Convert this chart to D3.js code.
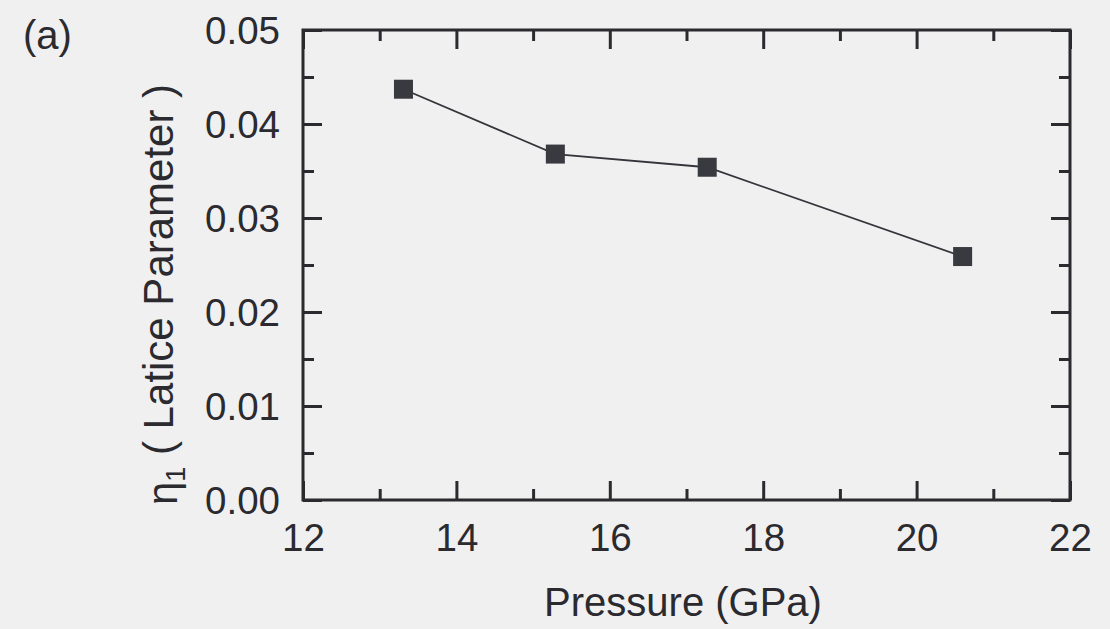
<!DOCTYPE html>
<html>
<head>
<meta charset="utf-8">
<script src="https://cdn.jsdelivr.net/npm/d3@7/dist/d3.min.js"></script>
<style>
  html, body { margin: 0; padding: 0; background: #f0f0f1; }
  svg { display: block; }
  text { font-family: "Liberation Sans", Arial, sans-serif; fill: #2a2a2f; }
</style>
</head>
<body>
<svg id="chart" width="1110" height="629"></svg>
<script>
// Order parameter eta_1 (lattice parameter) versus pressure
const pressure = [13.31, 15.29, 17.27, 20.60];
const eta1     = [0.0437, 0.0368, 0.0354, 0.0259];

const xMajorTicks = [12, 14, 16, 18, 20, 22];
const xMinorTicks = [13, 15, 17, 19, 21];
const yMajorTicks = [0.00, 0.01, 0.02, 0.03, 0.04, 0.05];
const yMinorTicks = [0.005, 0.015, 0.025, 0.035, 0.045];

const svg = d3.select("#chart");
const ink = "#2a2a2f";

const plotLeft = 303, plotRight = 1070, plotTop = 30, plotBottom = 500;
const x = d3.scaleLinear().domain([12, 22]).range([plotLeft, plotRight]);
const y = d3.scaleLinear().domain([0, 0.05]).range([plotBottom, plotTop]);

const majorLen = 19, minorLen = 11;
const tickFontSize = 38.5;

function styleAxis(g) {
  g.select(".domain").remove();
  g.selectAll(".tick line").attr("stroke", ink).attr("stroke-width", 3);
}
function styleLabels(g) {
  g.selectAll("text")
    .attr("font-size", tickFontSize)
    .style("font-family", "Liberation Sans, Arial, sans-serif")
    .attr("fill", ink);
}

// bottom axis: labelled major ticks + minor ticks, pointing inward
svg.append("g")
  .attr("transform", `translate(0,${plotBottom})`)
  .call(d3.axisBottom(x).tickValues(xMajorTicks).tickSize(-majorLen).tickPadding(24).tickFormat(d3.format("d")))
  .call(styleAxis)
  .call(styleLabels);
svg.append("g")
  .attr("transform", `translate(0,${plotBottom})`)
  .call(d3.axisBottom(x).tickValues(xMinorTicks).tickSize(-minorLen).tickFormat(""))
  .call(styleAxis);

// top axis (ticks only)
svg.append("g")
  .attr("transform", `translate(0,${plotTop})`)
  .call(d3.axisTop(x).tickValues(xMajorTicks).tickSize(-majorLen).tickFormat(""))
  .call(styleAxis);
svg.append("g")
  .attr("transform", `translate(0,${plotTop})`)
  .call(d3.axisTop(x).tickValues(xMinorTicks).tickSize(-minorLen).tickFormat(""))
  .call(styleAxis);

// left axis with labels
svg.append("g")
  .attr("transform", `translate(${plotLeft},0)`)
  .call(d3.axisLeft(y).tickValues(yMajorTicks).tickSize(-majorLen).tickPadding(23).tickFormat(d3.format(".2f")))
  .call(styleAxis)
  .call(styleLabels)
  .call(g => g.selectAll("text").attr("dy", "0.36em"));
svg.append("g")
  .attr("transform", `translate(${plotLeft},0)`)
  .call(d3.axisLeft(y).tickValues(yMinorTicks).tickSize(-minorLen).tickFormat(""))
  .call(styleAxis);

// right axis (ticks only)
svg.append("g")
  .attr("transform", `translate(${plotRight},0)`)
  .call(d3.axisRight(y).tickValues(yMajorTicks).tickSize(-majorLen).tickFormat(""))
  .call(styleAxis);
svg.append("g")
  .attr("transform", `translate(${plotRight},0)`)
  .call(d3.axisRight(y).tickValues(yMinorTicks).tickSize(-minorLen).tickFormat(""))
  .call(styleAxis);

// frame
svg.append("rect")
  .attr("x", plotLeft).attr("y", plotTop)
  .attr("width", plotRight - plotLeft).attr("height", plotBottom - plotTop)
  .attr("fill", "none").attr("stroke", ink).attr("stroke-width", 3);

// connecting line
const pts = pressure.map((p, i) => [p, eta1[i]]);
svg.append("path")
  .datum(pts)
  .attr("fill", "none")
  .attr("stroke", "#34343a")
  .attr("stroke-width", 1.8)
  .attr("d", d3.line().x(d => x(d[0])).y(d => y(d[1])));

// square markers
const ms = 19;
svg.selectAll("rect.marker")
  .data(pts)
  .join("rect")
  .attr("class", "marker")
  .attr("x", d => x(d[0]) - ms / 2)
  .attr("y", d => y(d[1]) - ms / 2)
  .attr("width", ms).attr("height", ms)
  .attr("fill", "#393940");

// axis titles
svg.append("text")
  .attr("x", 683)
  .attr("y", 616)
  .attr("text-anchor", "middle")
  .attr("font-size", 40)
  .text("Pressure (GPa)");

const yt = svg.append("text")
  .attr("transform", `translate(177,${(82 + 507) / 2}) rotate(-90)`)
  .attr("text-anchor", "middle")
  .attr("font-size", 42);
yt.append("tspan").text("η");
yt.append("tspan").attr("font-size", 27).attr("dy", "0.28em").text("1");
yt.append("tspan").attr("dy", "-0.28em").attr("font-size", 42).text(" ( Latice Parameter )");

// panel label
svg.append("text")
  .attr("x", 23).attr("y", 49)
  .attr("font-size", 40)
  .text("(a)");
</script>
</body>
</html>
